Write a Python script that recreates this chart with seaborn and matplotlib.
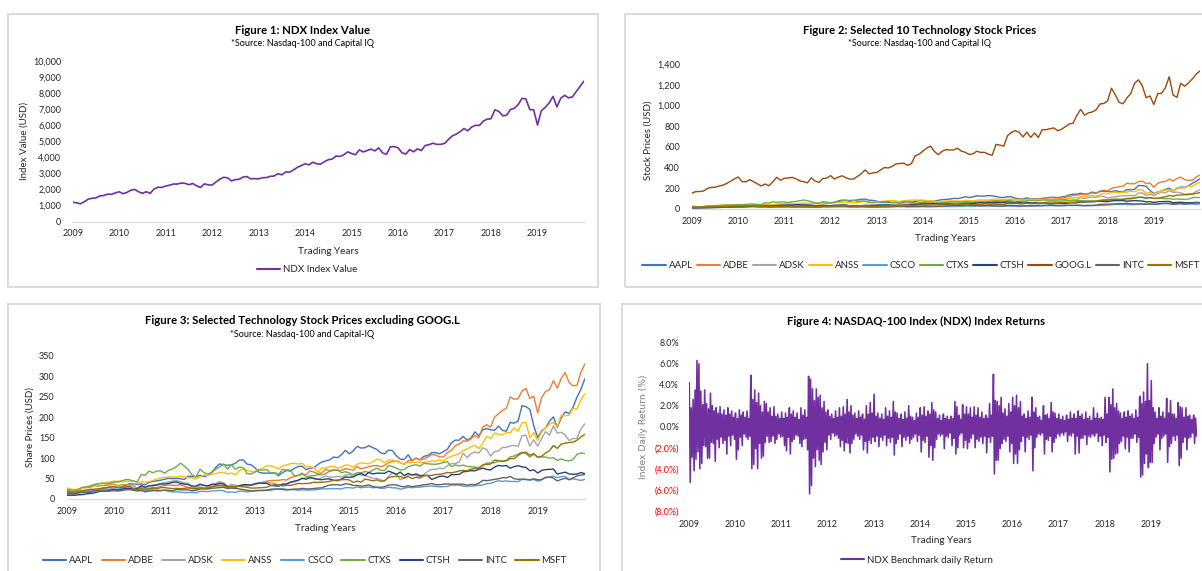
import numpy as np
import pandas as pd
import matplotlib
matplotlib.use("Agg")
import matplotlib.pyplot as plt
import matplotlib.ticker as mticker
from matplotlib.patches import Rectangle
import seaborn as sns

# ---- data (start-of-month values, Jan 2009 .. Jan 2020) ----
ndx = [1212, 1175, 1110, 1237, 1403, 1455, 1477, 1600, 1626, 1711, 1698, 1788,
       1860, 1741, 1818, 1957, 2004, 1860, 1765, 1862, 1760, 2034, 2140, 2127,
       2218, 2265, 2340, 2339, 2398, 2385, 2298, 2372, 2225, 2127, 2350, 2286,
       2278, 2468, 2644, 2756, 2722, 2533, 2616, 2634, 2776, 2800, 2659, 2677,
       2661, 2731, 2739, 2818, 2835, 2987, 2910, 3091, 3074, 3218, 3378, 3487,
       3592, 3533, 3696, 3596, 3573, 3733, 3850, 3893, 4082, 4049, 4158, 4337,
       4236, 4159, 4460, 4334, 4415, 4508, 4397, 4589, 4274, 4181, 4648, 4665,
       4593, 4280, 4202, 4483, 4341, 4524, 4418, 4731, 4785, 4875, 4801, 4803,
       4864, 5107, 5330, 5436, 5584, 5788, 5647, 5880, 5988, 5979, 6248, 6365,
       6397, 6950, 6854, 6582, 6606, 6967, 7040, 7272, 7660, 7628, 6968, 6949,
       6000, 6907, 7097, 7378, 7781, 7128, 7672, 7848, 7692, 7750, 8084, 8404,
       8733]

aapl = [12.2, 12.9, 12.7, 15.0, 17.9, 19.4, 20.3, 23.3, 24.0, 26.5, 27.0, 28.6,
        30.1, 27.4, 29.2, 33.6, 37.3, 36.7, 35.9, 36.8, 34.7, 40.5, 43.0, 44.4,
        46.1, 48.5, 50.5, 49.8, 50.0, 49.7, 47.8, 55.8, 54.9, 54.5, 57.8, 54.6,
        57.9, 65.2, 77.5, 85.7, 83.4, 82.5, 83.4, 87.3, 95.0, 95.3, 85.0, 83.6,
        76.0, 65.1, 63.1, 63.2, 63.3, 64.2, 56.6, 64.6, 69.6, 68.1, 74.7, 79.4,
        80.1, 71.5, 75.2, 76.7, 84.3, 90.4, 92.9, 95.6, 102.5, 100.8, 108.0, 118.9,
        110.4, 117.2, 128.5, 124.4, 125.2, 130.3, 125.4, 121.3, 112.8, 110.3, 119.5, 118.3,
        105.3, 97.3, 96.7, 108.0, 93.7, 99.9, 95.6, 104.2, 106.1, 113.1, 113.5, 110.5,
        115.8, 121.4, 137.0, 143.7, 143.7, 153.0, 144.0, 148.7, 164.0, 154.1, 169.0, 171.9,
        169.2, 167.4, 178.1, 167.8, 165.3, 186.9, 185.1, 190.3, 227.6, 225.7, 218.9, 178.6,
        150.0, 166.4, 173.2, 190.0, 200.7, 175.1, 197.9, 213.0, 208.7, 224.0, 248.8, 267.3,
        293.6]

adbe = [21.3, 18.7, 16.7, 21.4, 27.2, 27.8, 28.3, 32.4, 31.4, 33.0, 32.9, 35.0,
        36.8, 32.3, 34.7, 35.4, 33.6, 32.1, 26.4, 28.7, 26.6, 26.2, 28.1, 27.7,
        30.8, 32.9, 34.6, 33.2, 33.5, 34.7, 31.5, 27.8, 25.0, 24.2, 29.4, 27.4,
        28.3, 30.9, 32.8, 34.3, 33.6, 31.0, 32.4, 30.9, 31.2, 32.4, 34.0, 34.6,
        37.7, 37.9, 41.3, 43.5, 45.0, 45.6, 45.5, 47.3, 46.3, 52.0, 54.5, 57.0,
        59.9, 59.2, 68.6, 65.7, 61.7, 64.1, 72.4, 69.1, 72.0, 69.2, 70.1, 74.0,
        72.7, 70.2, 79.1, 73.9, 76.1, 79.0, 81.0, 82.0, 78.6, 82.2, 88.7, 91.5,
        93.9, 89.1, 84.2, 93.8, 94.2, 99.6, 95.8, 97.9, 102.3, 108.5, 107.5, 102.8,
        102.8, 113.4, 118.5, 130.1, 133.7, 141.9, 141.4, 146.5, 155.2, 149.2, 175.2, 181.5,
        175.2, 199.8, 207.8, 216.1, 221.6, 249.3, 243.8, 244.7, 263.6, 270.0, 245.8, 250.9,
        210.0, 247.8, 262.5, 266.5, 289.3, 270.9, 294.7, 308.8, 284.5, 276.3, 277.9, 309.5,
        329.8]

adsk = [19.6, 16.6, 13.6, 16.8, 20.7, 22.2, 19.0, 21.9, 23.0, 23.8, 24.0, 24.4,
        25.4, 23.8, 27.6, 29.4, 33.9, 32.1, 24.4, 31.9, 27.9, 32.0, 34.5, 35.8,
        38.2, 40.3, 41.3, 44.1, 44.9, 42.3, 38.6, 38.6, 28.9, 27.8, 34.7, 33.8,
        30.3, 36.2, 37.8, 42.3, 39.4, 32.1, 35.0, 33.8, 31.6, 33.4, 31.9, 33.4,
        35.4, 39.0, 39.1, 41.3, 39.1, 38.1, 33.9, 35.3, 33.9, 41.2, 41.5, 45.4,
        50.3, 50.9, 52.4, 49.2, 47.9, 52.3, 56.4, 53.5, 53.5, 55.1, 54.0, 57.8,
        60.1, 54.2, 59.9, 58.6, 56.7, 54.5, 50.1, 50.5, 46.6, 44.1, 55.2, 63.3,
        60.9, 47.0, 51.2, 58.3, 59.8, 57.2, 54.1, 59.5, 67.4, 72.3, 72.3, 75.3,
        74.0, 81.3, 86.1, 86.5, 90.1, 112.1, 100.8, 110.8, 114.7, 112.3, 125.0, 120.9,
        104.8, 115.7, 117.4, 125.8, 126.0, 129.4, 131.1, 128.4, 154.3, 156.1, 129.2, 144.5,
        128.6, 147.2, 164.4, 155.8, 178.2, 160.6, 163.0, 156.2, 142.8, 147.7, 147.8, 170.9,
        183.5]

anss = [27.9, 24.3, 22.3, 25.1, 27.8, 29.6, 31.2, 34.0, 37.2, 37.4, 40.8, 41.2,
        43.5, 43.2, 45.0, 43.1, 43.0, 44.3, 40.6, 42.6, 41.0, 42.3, 45.3, 48.8,
        52.1, 51.9, 54.4, 54.2, 53.2, 56.0, 54.7, 51.6, 51.8, 49.0, 54.4, 59.1,
        57.3, 60.6, 61.8, 65.0, 64.6, 61.5, 63.1, 59.1, 69.0, 73.4, 69.8, 66.9,
        67.3, 71.5, 75.3, 81.4, 80.7, 78.3, 73.1, 80.5, 82.9, 86.5, 87.3, 85.3,
        87.2, 78.8, 78.6, 77.0, 65.4, 75.7, 75.8, 78.9, 79.6, 75.7, 77.5, 83.3,
        82.0, 77.5, 84.9, 88.2, 87.0, 86.1, 91.2, 97.2, 95.0, 88.1, 95.3, 95.7,
        92.5, 88.2, 85.0, 89.5, 89.0, 89.8, 90.2, 89.0, 90.5, 92.6, 92.3, 95.5,
        92.5, 100.2, 104.0, 106.9, 110.8, 118.6, 121.7, 127.7, 131.1, 122.8, 136.7, 153.0,
        147.6, 161.0, 158.0, 156.7, 161.7, 162.3, 174.2, 165.9, 186.3, 186.7, 149.5, 162.1,
        142.9, 164.3, 173.5, 182.7, 187.1, 176.5, 204.8, 203.1, 204.9, 221.4, 220.1, 242.8,
        257.4]

csco = [16.3, 15.0, 14.6, 16.8, 19.3, 18.5, 18.6, 22.0, 21.6, 23.5, 22.8, 23.4,
        23.9, 22.5, 24.3, 26.0, 26.9, 23.2, 21.3, 23.1, 20.0, 21.9, 22.8, 19.2,
        20.2, 21.2, 18.6, 17.2, 17.6, 16.8, 15.6, 16.0, 15.7, 15.5, 18.5, 18.6,
        18.1, 19.6, 19.9, 21.2, 20.2, 16.3, 17.2, 16.0, 19.1, 19.1, 17.1, 18.9,
        19.6, 20.6, 20.8, 20.9, 20.9, 24.1, 24.3, 25.6, 23.3, 23.4, 22.5, 21.3,
        22.4, 21.9, 21.8, 22.4, 23.1, 24.6, 24.9, 25.2, 25.0, 25.2, 24.5, 27.6,
        27.8, 26.4, 29.5, 27.5, 28.8, 29.3, 27.5, 28.4, 25.9, 26.3, 28.9, 27.3,
        27.2, 23.8, 26.2, 28.5, 27.5, 29.1, 28.7, 30.5, 31.4, 31.7, 30.7, 29.8,
        30.2, 30.7, 34.2, 33.8, 34.1, 31.5, 31.3, 31.5, 32.2, 33.6, 34.2, 37.3,
        38.3, 41.5, 44.8, 42.9, 44.3, 42.7, 43.0, 42.3, 47.8, 48.6, 45.8, 47.9,
        43.3, 47.3, 51.8, 54.0, 55.9, 52.0, 54.7, 55.4, 46.8, 49.4, 47.5, 45.3,
        48.0]

ctxs = [23.6, 22.0, 21.2, 22.6, 28.7, 29.3, 31.9, 35.4, 36.8, 39.2, 36.8, 38.6,
        41.6, 41.5, 43.2, 47.5, 47.0, 43.6, 42.2, 60.0, 57.7, 68.2, 64.0, 68.4,
        68.4, 63.1, 70.2, 73.5, 79.2, 87.6, 80.0, 72.0, 57.7, 54.5, 72.8, 64.5,
        60.7, 65.0, 72.9, 78.9, 85.7, 73.2, 83.9, 72.6, 77.8, 76.6, 61.9, 61.0,
        65.7, 70.8, 70.3, 72.2, 62.2, 64.4, 60.3, 72.1, 71.0, 70.6, 56.7, 57.9,
        63.3, 54.2, 56.2, 57.3, 59.2, 59.2, 62.0, 67.8, 69.6, 71.3, 64.2, 66.6,
        63.8, 59.6, 64.3, 63.9, 67.1, 64.6, 70.2, 75.4, 70.1, 69.3, 82.1, 79.3,
        75.7, 70.8, 72.2, 78.6, 81.9, 83.7, 80.1, 87.2, 86.0, 85.2, 84.8, 86.3,
        89.3, 91.2, 78.8, 83.4, 80.9, 82.7, 79.6, 78.9, 78.0, 76.8, 82.6, 87.6,
        88.0, 88.6, 92.5, 92.8, 93.7, 102.9, 104.8, 109.9, 114.3, 111.2, 102.5, 109.6,
        102.5, 102.5, 102.6, 99.7, 100.7, 94.0, 98.1, 94.2, 92.9, 96.5, 108.8, 112.3,
        110.9]

ctsh = [9.0, 9.3, 9.0, 10.4, 10.6, 12.4, 13.4, 14.8, 17.5, 19.3, 19.3, 21.2,
        22.7, 21.8, 23.9, 25.5, 25.6, 25.1, 25.0, 32.7, 28.8, 32.2, 32.6, 33.8,
        36.6, 36.5, 38.0, 40.7, 41.5, 38.0, 36.7, 35.0, 31.6, 31.4, 36.4, 33.1,
        32.2, 35.8, 35.4, 38.5, 36.6, 29.1, 30.0, 29.6, 32.2, 35.0, 34.9, 33.9,
        37.0, 39.1, 38.4, 38.3, 33.0, 32.3, 31.3, 36.4, 36.7, 41.1, 43.5, 46.0,
        50.5, 48.4, 52.0, 50.6, 48.0, 47.1, 48.9, 49.0, 45.5, 44.8, 48.7, 53.8,
        52.7, 54.1, 59.1, 62.4, 57.7, 64.8, 61.1, 63.1, 63.0, 62.6, 68.1, 64.6,
        60.0, 65.7, 56.9, 62.7, 58.3, 61.3, 57.2, 57.5, 57.4, 47.7, 51.4, 55.3,
        56.0, 52.6, 59.5, 59.5, 60.2, 66.3, 67.5, 69.3, 68.8, 72.5, 75.6, 72.3,
        71.0, 77.9, 82.0, 80.5, 81.8, 75.3, 79.0, 81.5, 78.5, 77.2, 69.0, 71.1,
        63.5, 69.7, 71.9, 72.4, 73.0, 61.0, 63.4, 65.6, 61.3, 60.3, 60.9, 64.6,
        62.0]

goog = [154, 169, 169, 174, 198, 209, 210, 222, 230, 247, 268, 291,
        310, 265, 263, 284, 263, 243, 223, 242, 225, 263, 307, 278,
        297, 300, 306, 293, 272, 264, 253, 302, 270, 257, 296, 299,
        323, 290, 309, 321, 302, 290, 290, 316, 342, 378, 340, 349,
        354, 378, 401, 397, 412, 436, 440, 444, 423, 438, 515, 530,
        560, 590, 608, 556, 526, 559, 575, 571, 571, 588, 559, 549,
        528, 534, 559, 548, 548, 530, 520, 625, 618, 608, 710, 742,
        758, 742, 697, 744, 693, 735, 692, 768, 767, 777, 784, 758,
        771, 796, 823, 829, 905, 964, 908, 930, 939, 959, 1016, 1021,
        1046, 1169, 1104, 1031, 1018, 1075, 1115, 1217, 1250, 1193, 1076, 1094,
        1010, 1116, 1119, 1173, 1280, 1103, 1080, 1216, 1188, 1219, 1258, 1304,
        1337]

intc = [14.7, 12.9, 12.6, 15.0, 15.8, 15.7, 16.5, 19.2, 20.3, 19.6, 19.1, 19.2,
        20.4, 19.4, 20.5, 22.3, 22.8, 21.4, 19.5, 20.6, 17.6, 19.2, 20.1, 21.3,
        21.0, 21.5, 21.5, 20.2, 23.2, 22.5, 22.2, 22.3, 20.1, 21.3, 24.5, 24.9,
        24.3, 26.4, 26.9, 28.1, 28.4, 25.8, 26.6, 25.7, 24.8, 22.7, 21.6, 19.6,
        20.6, 21.0, 20.9, 21.8, 23.9, 24.3, 24.2, 23.3, 22.0, 22.9, 24.4, 24.4,
        26.0, 24.5, 24.8, 25.8, 26.7, 27.3, 30.9, 33.9, 34.9, 34.8, 34.0, 37.2,
        36.3, 33.0, 33.3, 31.3, 32.6, 34.5, 30.4, 28.9, 28.5, 30.1, 33.9, 34.8,
        34.5, 31.0, 29.6, 32.4, 30.3, 31.6, 32.8, 34.9, 35.9, 37.8, 34.9, 34.7,
        36.3, 36.8, 36.2, 36.1, 36.2, 36.1, 33.7, 35.5, 35.1, 38.1, 45.5, 44.8,
        46.2, 48.1, 49.3, 52.1, 51.6, 55.2, 49.7, 48.1, 48.4, 47.3, 46.9, 49.3,
        46.9, 47.1, 53.0, 53.7, 51.0, 44.0, 47.9, 50.6, 47.4, 51.5, 56.5, 58.1,
        59.9]

msft = [19.4, 17.1, 16.2, 18.4, 20.3, 20.9, 23.8, 23.5, 24.7, 25.7, 27.7, 29.4,
        30.5, 28.2, 28.7, 29.3, 30.5, 25.8, 23.0, 25.8, 23.5, 24.5, 26.7, 25.3,
        27.9, 27.7, 26.6, 25.4, 26.0, 25.0, 26.0, 27.4, 26.6, 24.9, 26.6, 25.6,
        26.0, 29.5, 31.7, 32.3, 32.0, 29.2, 30.6, 29.5, 30.8, 29.8, 28.5, 26.6,
        26.7, 27.5, 27.8, 28.6, 33.1, 35.0, 34.5, 31.8, 33.4, 33.3, 35.4, 38.1,
        37.4, 38.0, 38.3, 41.0, 40.4, 40.9, 41.7, 43.2, 45.4, 46.4, 47.0, 47.8,
        46.5, 40.4, 43.9, 40.7, 48.6, 46.9, 44.2, 46.7, 43.5, 44.3, 52.6, 54.4,
        55.5, 55.1, 51.0, 55.2, 49.9, 53.0, 51.2, 56.7, 57.5, 57.6, 59.9, 60.3,
        62.1, 64.7, 64.0, 65.9, 68.5, 69.8, 68.9, 72.7, 74.8, 74.5, 83.2, 84.2,
        85.5, 95.0, 93.8, 91.3, 93.5, 98.8, 98.6, 106.1, 112.3, 114.4, 106.8, 110.9,
        101.6, 104.4, 112.0, 118.0, 130.6, 123.7, 134.0, 136.3, 137.9, 139.0, 143.4, 151.4,
        157.7]

# NDX daily returns (%), four readings per month, 2009 .. 2019
ndx_returns = [
    4.2, -5.3, 1.8, -2.9, 2.6, -4.2, 3.5, -3.1, 6.3, -2.4, 6.0, -4.0, 3.4, -3.5, 2.1, -1.8, 3.5, -1.9, 2.2, -3.0, 1.7, -3.0, 3.2, -1.5,
    2.0, -1.6, 1.5, -3.3, 1.8, -1.2, 1.3, -2.0, 1.9, -1.0, 1.2, -1.6, 1.6, -1.3, 1.1, -2.6, 1.8, -0.9, 1.2, -1.8, 1.5, -0.8, 0.9, -1.2,
    1.3, -3.1, 0.8, -2.2, 1.6, -1.0, 1.1, -1.8, 1.4, -0.7, 0.9, -1.0, 1.5, -1.2, 0.8, -0.9, 4.9, -4.0, 2.6, -3.6, 3.5, -2.1, 2.3, -4.0,
    3.2, -1.6, 2.0, -3.0, 1.4, -2.8, 2.4, -1.5, 2.2, -0.9, 1.4, -1.5, 1.8, -1.4, 1.0, -0.9, 1.9, -1.6, 1.0, -1.2, 1.2, -0.7, 0.8, -1.0,
    1.4, -0.9, 0.8, -1.8, 1.3, -2.3, 0.9, -1.0, 1.8, -2.6, 1.2, -1.4, 1.5, -1.2, 0.9, -0.8, 1.3, -0.9, 0.7, -1.6, 1.8, -1.9, 1.1, -1.2,
    1.6, -1.1, 0.9, -2.2, 4.8, -6.4, 4.5, -5.6, 3.6, -3.0, 2.5, -3.8, 3.6, -2.2, 2.8, -3.2, 3.0, -3.6, 1.8, -2.4, 2.4, -1.5, 1.4, -2.2,
    1.6, -0.8, 1.0, -1.2, 1.2, -0.6, 0.8, -0.9, 1.5, -0.8, 0.9, -1.1, 1.8, -1.9, 1.0, -1.3, 1.9, -2.3, 1.2, -1.5, 2.6, -1.6, 1.4, -2.5,
    2.0, -1.6, 1.1, -1.2, 1.3, -0.7, 0.8, -0.9, 1.5, -1.2, 0.9, -0.8, 1.2, -2.2, 0.7, -1.4, 2.0, -2.5, 1.2, -1.3, 2.3, -1.6, 1.3, -1.0,
    3.1, -1.4, 1.0, -0.9, 1.3, -1.9, 0.8, -1.0, 1.2, -1.3, 0.7, -0.8, 1.8, -1.8, 1.0, -1.1, 1.5, -1.5, 0.9, -1.0, 2.4, -2.7, 1.4, -1.6,
    1.3, -1.2, 0.8, -0.7, 1.2, -1.9, 0.7, -1.0, 1.4, -1.3, 0.8, -0.9, 2.0, -1.6, 1.0, -1.2, 0.9, -1.0, 0.6, -0.7, 1.3, -1.4, 0.9, -0.8,
    1.8, -2.4, 1.1, -1.3, 1.9, -1.5, 1.0, -0.9, 1.5, -2.9, 1.2, -1.8, 2.3, -3.2, 1.6, -2.0, 1.4, -1.2, 0.8, -0.7, 1.1, -0.9, 0.6, -0.7,
    1.2, -2.1, 0.8, -0.9, 1.0, -1.0, 0.7, -0.6, 1.0, -1.8, 0.8, -1.1, 2.4, -2.6, 1.9, -2.0, 1.1, -0.8, 0.7, -0.6, 2.1, -2.0, 1.2, -1.3,
    1.9, -2.1, 1.2, -1.5, 1.8, -1.1, 0.9, -0.7, 1.9, -2.0, 1.1, -1.2, 1.8, -1.4, 0.9, -1.0, 1.4, -1.6, 0.8, -0.9, 1.1, -2.5, 0.8, -1.0,
    2.2, -1.5, 1.1, -0.9, 5.0, -4.5, 2.5, -3.2, 2.4, -3.2, 2.0, -2.1, 2.8, -1.6, 1.3, -1.2, 1.7, -1.4, 1.0, -0.9, 2.2, -2.4, 1.4, -1.6,
    2.8, -3.5, 2.0, -2.6, 3.0, -3.5, 1.8, -2.2, 2.4, -1.4, 1.0, -0.9, 1.2, -2.4, 0.8, -1.0, 1.5, -1.2, 0.9, -0.8, 2.8, -4.2, 1.4, -2.0,
    1.8, -1.0, 0.9, -0.7, 1.0, -0.8, 0.6, -0.6, 2.0, -2.6, 1.1, -1.2, 1.2, -1.3, 0.8, -0.9, 2.3, -2.4, 1.4, -1.5, 1.3, -1.1, 0.8, -0.7,
    1.2, -0.9, 0.7, -0.6, 1.0, -0.8, 0.6, -0.5, 1.1, -1.4, 0.7, -0.8, 1.4, -0.9, 0.8, -0.6, 1.2, -2.6, 0.8, -0.9, 1.5, -2.5, 1.0, -1.1,
    1.2, -1.1, 0.7, -0.8, 1.4, -1.7, 0.8, -0.9, 1.0, -1.0, 0.6, -0.7, 1.8, -0.9, 0.8, -0.6, 1.3, -1.4, 0.8, -0.9, 0.9, -1.8, 0.7, -0.8,
    2.8, -1.5, 1.2, -1.0, 2.8, -4.3, 2.1, -3.1, 3.6, -3.0, 1.8, -2.6, 2.2, -2.5, 1.5, -1.6, 1.3, -1.4, 0.8, -0.9, 1.4, -2.1, 0.9, -1.0,
    1.5, -2.4, 1.0, -1.1, 1.2, -1.1, 0.8, -0.7, 1.6, -1.5, 0.9, -1.0, 2.9, -4.8, 2.2, -4.6, 3.3, -3.5, 2.4, -2.6, 6.0, -3.9, 2.5, -3.4,
    4.4, -3.4, 1.8, -1.6, 1.4, -1.0, 0.8, -0.7, 1.8, -2.2, 1.0, -1.1, 1.4, -0.9, 0.8, -0.7, 2.7, -3.4, 1.3, -1.9, 2.5, -1.6, 1.2, -0.9,
    1.2, -1.3, 0.8, -0.8, 2.3, -3.7, 1.9, -3.0, 1.8, -1.5, 0.9, -1.0, 1.8, -2.2, 1.0, -1.1, 1.1, -1.0, 0.7, -0.6, 1.1, -1.6, 0.8, -0.9,
]

years = list(range(2009, 2020))
tickers_all = ["AAPL", "ADBE", "ADSK", "ANSS", "CSCO", "CTXS", "CTSH", "GOOG.L", "INTC", "MSFT"]
tickers_ex = [t for t in tickers_all if t != "GOOG.L"]
colors = {"AAPL": "#4472C4", "ADBE": "#ED7D31", "ADSK": "#A5A5A5", "ANSS": "#FFC000",
          "CSCO": "#5B9BD5", "CTXS": "#70AD47", "CTSH": "#264478", "GOOG.L": "#9E480E",
          "INTC": "#636363", "MSFT": "#997300"}
purple = "#7030A0"
txt = "#262626"

months = 2009 + np.arange(len(ndx)) / 12
prices = pd.DataFrame({"year": months, "AAPL": aapl, "ADBE": adbe, "ADSK": adsk,
                       "ANSS": anss, "CSCO": csco, "CTXS": ctxs, "CTSH": ctsh,
                       "GOOG.L": goog, "INTC": intc, "MSFT": msft})
long = prices.melt(id_vars="year", var_name="ticker", value_name="price")
ret_x = 2009 + (np.arange(len(ndx_returns)) + 0.5) * 11 / len(ndx_returns)

# ---- figure ----
sns.set_theme(style="white")
plt.rcParams["font.family"] = ["Lato", "DejaVu Sans"]

W, H = 1202, 571
fig = plt.figure(figsize=(W / 100, H / 100), dpi=100)


def fxy(x, y):
    return x / W, 1 - y / H


def add_ax(left, top, right, bottom):
    return fig.add_axes([left / W, 1 - bottom / H, (right - left) / W, (bottom - top) / H])


def panel(x0, y0, x1, y1):
    fig.add_artist(Rectangle(fxy(x0, y1), (x1 - x0) / W, (y1 - y0) / H,
                             transform=fig.transFigure, fill=False,
                             edgecolor="#D9D9D9", linewidth=1.3))


def style_ax(ax, ylabel, lab_x, lab_y, xl_y, xl_x, ypad, xpad=6):
    ax.set_xlim(2009, 2020)
    ax.set_xticks(years, [str(y) for y in years])
    for s in ["top", "right", "left"]:
        ax.spines[s].set_visible(False)
    ax.spines["bottom"].set_color("#D9D9D9")
    ax.spines["bottom"].set_linewidth(0.9)
    ax.tick_params(axis="both", length=0, labelsize=6.5, labelcolor=txt)
    ax.tick_params(axis="y", pad=ypad)
    ax.tick_params(axis="x", pad=xpad)
    ax.grid(False)
    ax.set_ylabel(ylabel, fontsize=7, color=txt, va="center")
    ax.yaxis.set_label_coords(*fxy(lab_x, lab_y), transform=fig.transFigure)
    ax.set_xlabel("Trading Years", fontsize=7.2, color=txt, va="center")
    ax.xaxis.set_label_coords(*fxy(xl_x, xl_y), transform=fig.transFigure)


def legend_at(ax, x, y, ncol, cs):
    leg = ax.legend(loc="center", bbox_to_anchor=fxy(x, y), bbox_transform=fig.transFigure,
                    ncol=ncol, frameon=False, fontsize=7, handlelength=2.4,
                    handletextpad=0.3, columnspacing=cs, borderpad=0)
    for t in leg.get_texts():
        t.set_color(txt)
    for h in leg.legend_handles:
        h.set_linewidth(1.5)
    return leg


def titles(x, y, title, source=None):
    fig.text(*fxy(x, y), title, ha="center", va="center",
             fontsize=8.2, fontweight="bold", color="black")
    if source:
        fig.text(*fxy(x, y + 13.7), source, ha="center", va="center",
                 fontsize=6.5, color="black")


comma = mticker.FuncFormatter(lambda v, p: f"{v:,.0f}")

# Figure 1
panel(7.6, 14, 598, 287)
ax1 = add_ax(72.7, 60.7, 584, 221.7)
sns.lineplot(x=months, y=ndx, ax=ax1, color=purple, linewidth=1.2, label="NDX Index Value")
ax1.set_ylim(0, 10000)
ax1.set_yticks(range(0, 10001, 1000))
ax1.yaxis.set_major_formatter(comma)
style_ax(ax1, "Index Value (USD)", 23.7, 141, 251.7, 328, ypad=8.3, xpad=5.5)
legend_at(ax1, 307, 270, 1, 0.5)
titles(302.7, 30, "Figure 1: NDX Index Value", "*Source: Nasdaq-100 and Capital IQ")

# Figure 2
panel(625, 14, 1235, 287)
ax2 = add_ax(692, 64.3, 1200, 209)
sns.lineplot(data=long, x="year", y="price", hue="ticker", hue_order=tickers_all,
             palette=colors, linewidth=1.0, estimator=None, ax=ax2)
ax2.set_ylim(0, 1400)
ax2.set_yticks(range(0, 1401, 200))
ax2.yaxis.set_major_formatter(comma)
style_ax(ax2, "Stock Prices (USD)", 648, 140, 238.7, 945.6, ypad=8.6)
legend_at(ax2, 921, 265.7, 10, 0.4)
titles(920, 30, "Figure 2: Selected 10 Technology Stock Prices", "*Source: Nasdaq-100 and Capital IQ")

# Figure 3
panel(7.7, 304, 600, 590)
ax3 = add_ax(66.6, 355.7, 584.8, 499)
sns.lineplot(data=long[long["ticker"] != "GOOG.L"], x="year", y="price", hue="ticker",
             hue_order=tickers_ex, palette=colors, linewidth=1.0, estimator=None, ax=ax3)
ax3.set_ylim(0, 350)
ax3.set_yticks(range(0, 351, 50))
style_ax(ax3, "Share Prices (USD)", 29.9, 426.7, 528.7, 325.3, ypad=8.6)
legend_at(ax3, 305, 560.7, 9, 0.84)
titles(302.5, 321, "Figure 3: Selected Technology Stock Prices excluding GOOG.L",
       "*Source: Nasdaq-100 and Capital-IQ")

# Figure 4
panel(621.8, 304, 1235, 590)
ax4 = add_ax(688.8, 342.7, 1197, 510.7)
sns.lineplot(x=ret_x, y=ndx_returns, ax=ax4, color=purple, linewidth=1.15,
             label="NDX Benchmark daily Return")
ax4.set_ylim(-8, 8)
yv = list(range(8, -9, -2))
ax4.set_yticks(yv, [f"{v:.1f}%" if v >= 0 else f"({-v:.1f}%)" for v in yv])
style_ax(ax4, "Index Daily Return (%)", 644, 426.7, 540.3, 941.8, ypad=7, xpad=6.5)
ax4.spines["bottom"].set_visible(False)
ax4.yaxis.label.set_color("#7F7F7F")
ax4.yaxis.label.set_family("DejaVu Sans")
ax4.yaxis.label.set_size(6.7)
for v, lbl in zip(yv, ax4.get_yticklabels()):
    if v < 0:
        lbl.set_color("#FF0000")
legend_at(ax4, 917, 560.3, 1, 0.5)
titles(915.7, 321, "Figure 4: NASDAQ-100 Index (NDX) Index Returns")

fig.savefig("out.png", dpi=100)
